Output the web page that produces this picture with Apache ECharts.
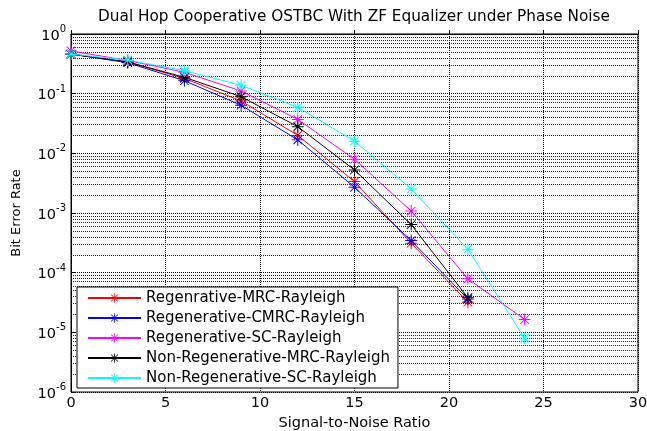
<!DOCTYPE html>
<html>
<head>
<meta charset="utf-8">
<script src="https://cdn.jsdelivr.net/npm/echarts@6/dist/echarts.min.js"></script>
<style>html,body{margin:0;padding:0;background:#fff}#c{width:647px;height:431px}</style>
</head>
<body>
<div id="c"></div>
<script>
var snr = [0, 3, 6, 9, 12, 15, 18, 21, 24];
var regMRC = [0.46, 0.34, 0.18, 0.0755, 0.020, 0.00336, 0.000312, 0.000032];
var regCMRC = [0.46, 0.33, 0.165, 0.064, 0.0168, 0.0027, 0.000345, 0.000036];
var regSC = [0.52, 0.36, 0.228, 0.111, 0.037, 0.00796, 0.00108, 0.000079, 0.0000164];
var nonRegMRC = [0.46, 0.34, 0.188, 0.089, 0.028, 0.00527, 0.00064, 0.000038];
var nonRegSC = [0.46, 0.367, 0.243, 0.138, 0.059, 0.016, 0.00253, 0.000247, 0.0000080];
var seriesNames = ['Regenrative-MRC-Rayleigh', 'Regenerative-CMRC-Rayleigh', 'Regenerative-SC-Rayleigh', 'Non-Regenerative-MRC-Rayleigh', 'Non-Regenerative-SC-Rayleigh'];
var seriesColors = ['#ff0000', '#0000ff', '#ff00ff', '#000000', '#00ffff'];
var seriesValues = [regMRC, regCMRC, regSC, nonRegMRC, nonRegSC];

var FONT = 'DejaVu Sans, Liberation Sans, Arial, sans-serif';
var star = 'path://M0 9.2 L20 9.2 L20 10.8 L0 10.8 Z M9.2 0 L10.8 0 L10.8 20 L9.2 20 Z M3.4 2.3 L17.7 16.6 L16.6 17.7 L2.3 3.4 Z M16.6 2.3 L17.7 3.4 L3.4 17.7 L2.3 16.6 Z';

// minor log gridlines (2..9 x 10^e), expressed in log10 space on a hidden linear axis
var minorLines = [];
for (var e = -6; e < 0; e++) {
  for (var m = 2; m <= 9; m++) minorLines.push({yAxis: e + Math.log(m) / Math.LN10});
}

var series = seriesValues.map(function (vals, i) {
  return {
    name: seriesNames[i],
    type: 'line',
    data: vals.map(function (v, j) { return [snr[j], v]; }),
    symbol: star,
    symbolSize: 12,
    symbolKeepAspect: true,
    showAllSymbol: true,
    color: seriesColors[i],
    lineStyle: {width: 1, color: seriesColors[i]},
    itemStyle: {color: seriesColors[i]},
    z: 3 + i
  };
});
series.unshift({
  type: 'line',
  yAxisIndex: 1,
  data: [],
  silent: true,
  z: 1,
  markLine: {
    silent: true,
    symbol: 'none',
    label: {show: false},
    lineStyle: {type: 'dotted', color: '#222', width: 1},
    data: minorLines,
    animation: false
  }
});

var chart = echarts.init(document.getElementById('c'), null, {renderer: 'canvas'});
chart.setOption({
  animation: false,
  backgroundColor: '#fff',
  textStyle: {fontFamily: FONT, color: '#000'},
  title: {
    text: 'Dual Hop Cooperative OSTBC With ZF Equalizer under Phase Noise',
    left: 349, top: 5, textAlign: 'center',
    textStyle: {fontSize: 15.3, fontWeight: 'normal', color: '#000', fontFamily: FONT}
  },
  grid: {left: 71, right: 9, top: 34, bottom: 39, show: true, borderColor: '#000', borderWidth: 1,
         containLabel: false, outerBoundsMode: 'none'},
  legend: {
    data: seriesNames,
    orient: 'vertical',
    left: 77, top: 287,
    z: 100,
    backgroundColor: '#fff',
    borderColor: '#000', borderWidth: 1,
    padding: [1, 8, 0, 10],
    itemWidth: 53, itemHeight: 12, itemGap: 0,
    textStyle: {fontSize: 15, color: '#000', fontFamily: FONT, lineHeight: 20}
  },
  xAxis: {
    type: 'value', min: 0, max: 30, interval: 5,
    name: 'Signal-to-Noise Ratio', nameLocation: 'middle', nameGap: 21,
    nameTextStyle: {fontSize: 14.5, color: '#000', fontFamily: FONT},
    axisLine: {lineStyle: {color: '#000'}},
    axisTick: {inside: true, length: 4, lineStyle: {color: '#000'}},
    axisLabel: {fontSize: 14.5, color: '#000', margin: 4, fontFamily: FONT},
    splitLine: {show: true, lineStyle: {type: 'dotted', color: '#000'}}
  },
  yAxis: [{
    type: 'log', logBase: 10, min: 1e-6, max: 1,
    name: 'Bit Error Rate', nameLocation: 'middle', nameGap: 48,
    nameTextStyle: {fontSize: 13, color: '#000', fontFamily: FONT},
    axisLine: {lineStyle: {color: '#000'}},
    axisTick: {inside: true, length: 4, lineStyle: {color: '#000'}},
    splitLine: {show: true, lineStyle: {type: 'dotted', color: '#000'}},
    axisLabel: {
      margin: 5, color: '#000',
      formatter: function (v) {
        var ex = Math.round(Math.log(v) / Math.LN10);
        return '{b|10}{s|' + ex + '}';
      },
      rich: {
        b: {fontSize: 14.5, color: '#000', fontFamily: FONT, verticalAlign: 'bottom'},
        s: {fontSize: 10, color: '#000', fontFamily: FONT, verticalAlign: 'top', padding: [0, 0, 9, 0]}
      }
    }
  }, {
    type: 'value', min: -6, max: 0, show: false,
    splitLine: {show: false}
  }],
  series: series
});
</script>
</body>
</html>
